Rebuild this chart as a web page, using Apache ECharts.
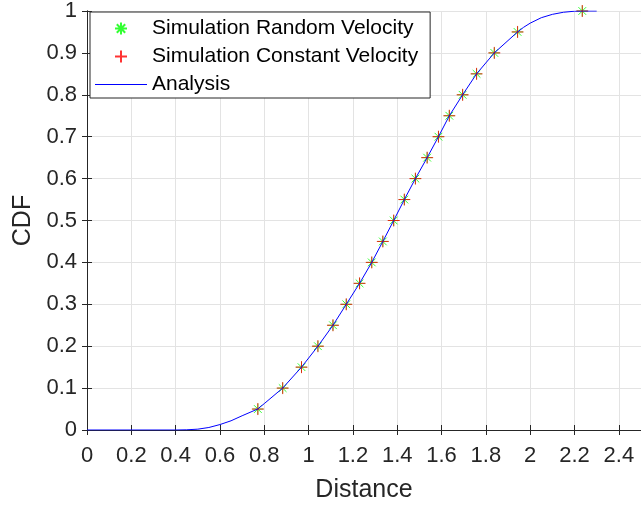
<!DOCTYPE html>
<html>
<head>
<meta charset="utf-8">
<script src="https://cdn.jsdelivr.net/npm/echarts@6/dist/echarts.min.js"></script>
<style>
  html, body { margin: 0; padding: 0; background: #fff; }
  #main { width: 641px; height: 508px; }
</style>
</head>
<body>
<div id="main"></div>
<script>
// CDF levels of the simulated points
var cdfLevels = [0.05, 0.1, 0.15, 0.2, 0.25, 0.3, 0.35, 0.4, 0.45, 0.5,
                 0.55, 0.6, 0.65, 0.7, 0.75, 0.8, 0.85, 0.9, 0.95, 1.0];
// distance for each level
var randomDist = [0.771, 0.883, 0.968, 1.042, 1.110, 1.170, 1.230, 1.285, 1.335, 1.384,
                  1.432, 1.482, 1.535, 1.586, 1.635, 1.695, 1.758, 1.838, 1.943, 2.235];
var constantDist = [0.771, 0.883, 0.968, 1.042, 1.110, 1.170, 1.230, 1.285, 1.335, 1.384,
                    1.432, 1.482, 1.535, 1.586, 1.635, 1.695, 1.758, 1.838, 1.943, 2.235];
// analysis curve
var analysisX = [0, 0.4, 0.45, 0.5, 0.55, 0.6, 0.65, 0.7, 0.77, 0.8, 0.883, 0.968, 1.042, 1.110,
                 1.170, 1.230, 1.285, 1.335, 1.384, 1.432, 1.482, 1.535, 1.586, 1.635, 1.695,
                 1.758, 1.838, 1.943, 1.97, 2.0, 2.05, 2.1, 2.15, 2.2, 2.236, 2.3];
var analysisY = [0, 0, 0.0005, 0.002, 0.006, 0.013, 0.022, 0.034, 0.05, 0.063, 0.1, 0.15, 0.2, 0.25,
                 0.3, 0.35, 0.4, 0.45, 0.5, 0.55, 0.6, 0.65, 0.7, 0.75, 0.8,
                 0.85, 0.9, 0.95, 0.961, 0.971, 0.984, 0.992, 0.997, 0.9995, 1, 1];
var xTicks = [0, 0.2, 0.4, 0.6, 0.8, 1, 1.2, 1.4, 1.6, 1.8, 2, 2.2, 2.4];
var yTicks = [0, 0.1, 0.2, 0.3, 0.4, 0.5, 0.6, 0.7, 0.8, 0.9, 1];
var seriesNames = ['Simulation Random Velocity', 'Simulation Constant Velocity', 'Analysis'];

function pairs(xs, ys) {
  var out = [];
  for (var i = 0; i < xs.length; i++) out.push([xs[i], ys[i]]);
  return out;
}
function tickText(v) {
  return String(Math.round(v * 10) / 10);
}

var FONT = '"Liberation Sans", Arial, sans-serif';
var AXC = '#262626';
var starPath = 'path://M0,-1L0,1M-1,0L1,0M-0.7,-0.7L0.7,0.7M-0.7,0.7L0.7,-0.7';
var plusPath = 'path://M0,-1L0,1M-1,0L1,0';
var linePath = 'path://M0,0L52,0L52,1L0,1Z';

var myChart = echarts.init(document.getElementById('main'), null, { renderer: 'canvas' });

var hiddenAxis = {
  axisLine: { show: true, lineStyle: { color: AXC, width: 1 } },
  axisTick: { show: true, inside: true, length: 5, lineStyle: { color: AXC } },
  axisLabel: { show: false },
  splitLine: { show: false }
};

var option = {
  animation: false,
  backgroundColor: '#fff',
  grid: { left: 87, top: 6, width: 555, height: 425 },
  legend: {
    orient: 'vertical',
    left: 90,
    top: 12,
    padding: [6, 12, 3, 5],
    itemGap: 7,
    itemWidth: 52,
    itemHeight: 12,
    borderColor: AXC,
    borderWidth: 1,
    borderRadius: 0,
    backgroundColor: '#fff',
    textStyle: { fontFamily: FONT, fontSize: 21, color: '#000' },
    data: [
      { name: seriesNames[0] },
      { name: seriesNames[1] },
      { name: seriesNames[2], icon: linePath }
    ]
  },
  xAxis: [
    {
      type: 'value', min: 0, max: 2.5, interval: 0.2,
      name: 'Distance', nameLocation: 'middle', nameGap: 48,
      nameTextStyle: { fontFamily: FONT, fontSize: 25, color: AXC },
      axisLine: { show: true, lineStyle: { color: AXC, width: 1 } },
      axisTick: { show: true, inside: true, length: 5, lineStyle: { color: AXC } },
      axisLabel: {
        fontFamily: FONT, fontSize: 22, color: AXC, margin: 15,
        showMaxLabel: false,
        formatter: function (v) { return xTicks.indexOf(Math.round(v * 10) / 10) >= 0 ? tickText(v) : ''; }
      },
      splitLine: { show: true, lineStyle: { color: '#e3e3e3', width: 1 } }
    },
    Object.assign({ type: 'value', min: 0, max: 2.5, interval: 0.2, position: 'top' }, hiddenAxis)
  ],
  yAxis: [
    {
      type: 'value', min: 0, max: 1, interval: 0.1,
      name: 'CDF', nameLocation: 'middle', nameGap: 50,
      nameTextStyle: { fontFamily: FONT, fontSize: 25, color: AXC },
      axisLine: { show: true, lineStyle: { color: AXC, width: 1 } },
      axisTick: { show: true, inside: true, length: 5, lineStyle: { color: AXC } },
      axisLabel: {
        fontFamily: FONT, fontSize: 22, color: AXC, margin: 10,
        formatter: function (v) { return yTicks.indexOf(Math.round(v * 10) / 10) >= 0 ? tickText(v) : ''; }
      },
      splitLine: { show: true, lineStyle: { color: '#e3e3e3', width: 1 } }
    },
    Object.assign({ type: 'value', min: 0, max: 1, interval: 0.1, position: 'right' }, hiddenAxis)
  ],
  series: [
    {
      name: seriesNames[0],
      type: 'scatter',
      symbol: starPath,
      symbolSize: 11,
      itemStyle: { color: '#00ff00', borderColor: '#00ff00', borderWidth: 1 },
      data: pairs(randomDist, cdfLevels),
      z: 2
    },
    {
      name: seriesNames[1],
      type: 'scatter',
      symbol: plusPath,
      symbolSize: 12,
      itemStyle: { color: '#ff0000', borderColor: '#ff0000', borderWidth: 1 },
      data: pairs(constantDist, cdfLevels),
      z: 3
    },
    {
      name: seriesNames[2],
      type: 'line',
      symbol: 'none',
      showSymbol: false,
      lineStyle: { color: '#0000ff', width: 1 },
      itemStyle: { color: '#0000ff' },
      data: pairs(analysisX, analysisY),
      z: 4
    }
  ]
};

myChart.setOption(option);
</script>
</body>
</html>
